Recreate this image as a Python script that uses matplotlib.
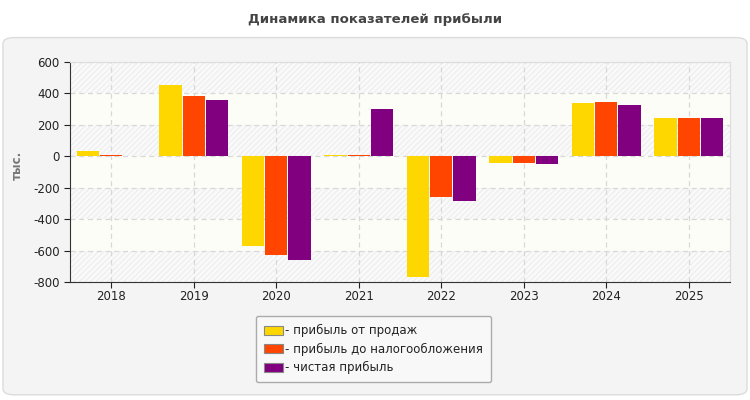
import numpy as np
import matplotlib.pyplot as plt
from matplotlib.patches import FancyBboxPatch, Rectangle

plt.rcParams['font.family'] = ['DejaVu Sans']
plt.rcParams['axes.unicode_minus'] = False

years = ['2018', '2019', '2020', '2021', '2022', '2023', '2024', '2025']
sales_profit = [32, 453, -574, 8, -765, -42, 340, 242]
pretax_profit = [8, 383, -631, 10, -260, -42, 347, 242]
net_profit = [3, 357, -663, 300, -285, -51, 325, 242]

series = [sales_profit, pretax_profit, net_profit]
labels = ['- прибыль от продаж', '- прибыль до налогообложения', '- чистая прибыль']
colors = ['#ffd700', '#ff4500', '#800080']

fig = plt.figure(figsize=(7.5, 4), dpi=100)
fig.patch.set_facecolor('white')

# outer panel on a background axes
bg = fig.add_axes([0, 0, 1, 1], zorder=-10)
bg.set_xlim(0, 1)
bg.set_ylim(0, 1)
bg.axis('off')
bg.add_patch(FancyBboxPatch((0.004, 0.013), 0.992, 0.893, boxstyle='round,pad=0,rounding_size=0.015',
                            facecolor='#f4f4f4', edgecolor='#dcdcdc', linewidth=1))

fig.text(0.5, 0.95, 'Динамика показателей прибыли', ha='center', va='center',
         fontsize=9.5, fontweight='bold', color='#444444')

ax = fig.add_axes([0.0933, 0.295, 0.88, 0.55])
ax.set_facecolor('#fdfdf8')

# alternating bands
for lo in range(-800, 600, 400):
    ax.add_patch(Rectangle((-0.5, lo), 8, 200, facecolor='#fafafa', edgecolor='#efefef',
                           hatch='//////', linewidth=0, zorder=0))

x = np.arange(len(years))
w = 0.27
for i, (vals, c, lab) in enumerate(zip(series, colors, labels)):
    ax.bar(x + (i - 1) * (w + 0.012), vals, width=w, color=c, label=lab, zorder=3)

ax.set_xlim(-0.5, 7.5)
ax.set_ylim(-800, 600)
ax.set_yticks(range(-800, 601, 200))
ax.set_xticks(x)
ax.set_xticklabels(years)
ax.tick_params(labelsize=8.5, colors='#222222', length=4)
ax.tick_params(axis='x', pad=2)

ax.grid(True, color='#d8d8d8', linestyle=(0, (4, 3)), linewidth=0.9, zorder=1)
ax.set_axisbelow(True)
ax.spines['left'].set_color('#333333')
ax.spines['bottom'].set_color('#333333')
ax.spines['top'].set_color('#dddddd')
ax.spines['right'].set_color('#dddddd')

ax.set_ylabel('тыс.', fontsize=8.5, fontweight='bold', color='#777777')
ax.yaxis.set_label_coords(-0.07, 0.53)

leg = ax.legend(loc='upper center', bbox_to_anchor=(0.46, -0.128), frameon=True, fontsize=8.5,
                handlelength=1.6, handleheight=0.8, handletextpad=0.2, borderpad=0.7,
                labelspacing=0.45, fancybox=True)
leg.get_frame().set_edgecolor('#999999')
leg.get_frame().set_facecolor('#fafafa')
for h in leg.legend_handles:
    h.set_edgecolor('#888888')
    h.set_linewidth(0.8)
for t in leg.get_texts():
    t.set_color('#222222')

fig.savefig('out.png', dpi=100)
